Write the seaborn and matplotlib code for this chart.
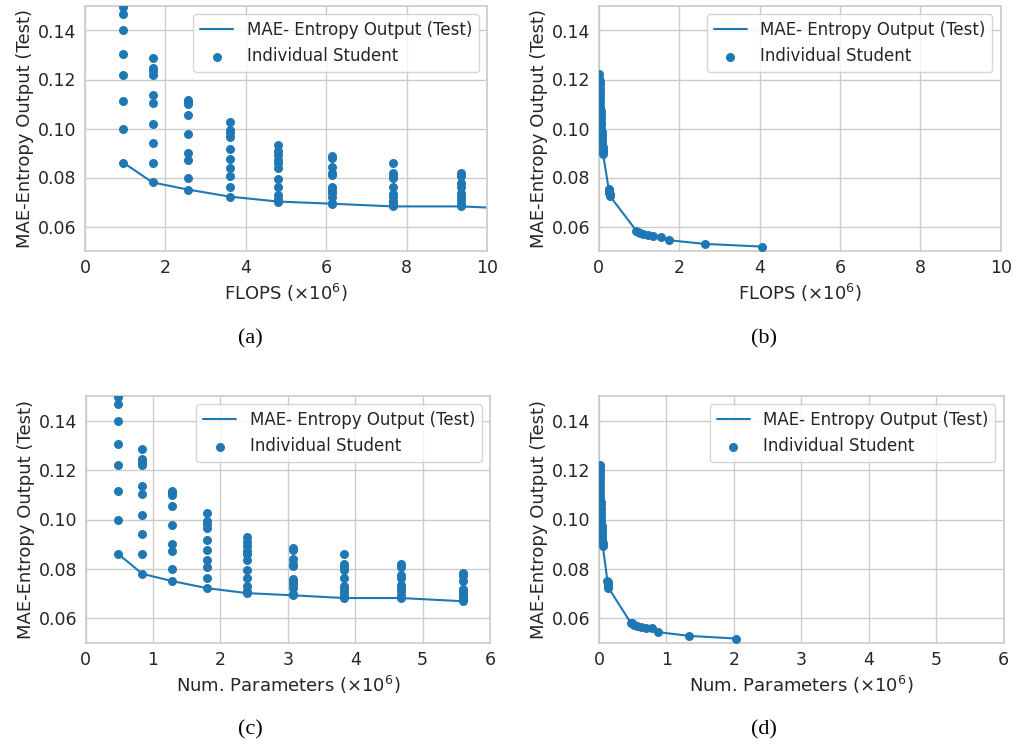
import matplotlib
matplotlib.use("Agg")
import matplotlib.pyplot as plt
import seaborn as sns
import pandas as pd

# ---- student grid (panels a and c): each column is one architecture width ----
col_flops = [0.95, 1.68, 2.55, 3.60, 4.79, 6.14, 7.66, 9.35, 11.2]   # x10^6
col_params = [0.48, 0.84, 1.28, 1.80, 2.39, 3.08, 3.84, 4.68, 5.60]  # x10^6
col_errors = [
    [0.1495, 0.1468, 0.1400, 0.1305, 0.1219, 0.1114, 0.0996, 0.0861],
    [0.1286, 0.1246, 0.1234, 0.1220, 0.1137, 0.1103, 0.1018, 0.0941, 0.0859, 0.0780],
    [0.1117, 0.1108, 0.1099, 0.1056, 0.0978, 0.0899, 0.0872, 0.0800, 0.0751],
    [0.1027, 0.0995, 0.0982, 0.0965, 0.0918, 0.0876, 0.0838, 0.0808, 0.0763, 0.0722],
    [0.0931, 0.0910, 0.0893, 0.0872, 0.0859, 0.0837, 0.0795, 0.0763, 0.0729, 0.0712, 0.0702],
    [0.0886, 0.0878, 0.0842, 0.0818, 0.0812, 0.0761, 0.0750, 0.0738, 0.0722, 0.0697, 0.0693],
    [0.0859, 0.0820, 0.0807, 0.0797, 0.0763, 0.0732, 0.0720, 0.0706, 0.0693, 0.0682],
    [0.0820, 0.0807, 0.0777, 0.0763, 0.0736, 0.0722, 0.0709, 0.0693, 0.0682],
    [0.0784, 0.0770, 0.0750, 0.0719, 0.0710, 0.0703, 0.0692, 0.0680, 0.0669],
]

# ---- compact students (panels b and d) ----
small_flops = [0.015, 0.018, 0.021, 0.024, 0.027, 0.030, 0.033, 0.036, 0.040, 0.044,
               0.048, 0.052, 0.056, 0.060, 0.064, 0.068, 0.072, 0.076, 0.080, 0.085,
               0.090, 0.095, 0.100, 0.105, 0.110,
               0.250, 0.258, 0.265, 0.272, 0.280,
               0.94, 0.98, 1.03, 1.11, 1.23, 1.36, 1.55, 1.75, 2.64, 4.05]
small_params = [0.008, 0.009, 0.011, 0.012, 0.014, 0.015, 0.017, 0.018, 0.020, 0.022,
                0.024, 0.026, 0.028, 0.030, 0.032, 0.034, 0.036, 0.038, 0.040, 0.043,
                0.045, 0.048, 0.050, 0.053, 0.055,
                0.125, 0.129, 0.133, 0.136, 0.140,
                0.47, 0.49, 0.52, 0.56, 0.62, 0.69, 0.78, 0.88, 1.33, 2.03]
small_errors = [0.1222, 0.1208, 0.1195, 0.1180, 0.1166, 0.1150, 0.1135, 0.1120, 0.1104, 0.1088,
                0.1072, 0.1057, 0.1042, 0.1028, 0.1013, 0.0999, 0.0985, 0.0972, 0.0960, 0.0948,
                0.0936, 0.0924, 0.0914, 0.0904, 0.0894,
                0.0752, 0.0745, 0.0738, 0.0731, 0.0724,
                0.0582, 0.0579, 0.0574, 0.0569, 0.0566, 0.0562, 0.0559, 0.0544, 0.0529, 0.0518]

line_label = "MAE- Entropy Output (Test)"
dot_label = "Individual Student"
y_label = "MAE-Entropy Output (Test)"
flops_label = r"FLOPS ($\times10^6$)"
params_label = r"Num. Parameters ($\times10^6$)"
y_ticks = [0.06, 0.08, 0.10, 0.12, 0.14]
captions = ["(a)", "(b)", "(c)", "(d)"]

sns.set_theme(style="whitegrid", context="notebook")
plt.rcParams["font.family"] = ["DejaVu Sans"]
blue = "#1f77b4"

# long-form tables
grid_rows = []
for f, p, errs in zip(col_flops, col_params, col_errors):
    for e in errs:
        grid_rows.append({"flops": f, "params": p, "err": e})
grid = pd.DataFrame(grid_rows)
front = grid.groupby(["flops", "params"], as_index=False)["err"].min()
small = pd.DataFrame({"flops": small_flops, "params": small_params, "err": small_errors})

fig = plt.figure(figsize=(10.13, 7.46), dpi=100)
W, H = 1013.0, 746.0


def axes_px(left, right, top, bottom):
    return fig.add_axes([left / W, 1 - bottom / H, (right - left) / W, (bottom - top) / H])


ax_a = axes_px(85, 487, 6, 251)
ax_b = axes_px(598.7, 1000.7, 6, 251)
ax_c = axes_px(85.7, 490, 396, 643)
ax_d = axes_px(599, 1003.7, 396, 643)

panels = [
    (ax_a, front, grid, "flops", flops_label, 10, [0, 2, 4, 6, 8, 10]),
    (ax_b, small, small, "flops", flops_label, 10, [0, 2, 4, 6, 8, 10]),
    (ax_c, front, grid, "params", params_label, 6, [0, 1, 2, 3, 4, 5, 6]),
    (ax_d, small, small, "params", params_label, 6, [0, 1, 2, 3, 4, 5, 6]),
]

for ax, line_df, dot_df, xcol, xlabel, xmax, xticks in panels:
    sns.lineplot(data=line_df, x=xcol, y="err", ax=ax, color=blue, linewidth=1.5,
                 estimator=None, sort=True, label=line_label)
    sns.scatterplot(data=dot_df, x=xcol, y="err", ax=ax, color=blue, s=42,
                    linewidth=0, label=dot_label, zorder=3)
    ax.set_xlim(0, xmax)
    ax.set_ylim(0.05, 0.15)
    ax.set_xticks(xticks)
    ax.set_yticks(y_ticks)
    ax.set_yticklabels([f"{t:.2f}" for t in y_ticks])
    ax.set_xlabel(xlabel, fontsize=13, color="#262626", labelpad=3)
    ax.set_ylabel(y_label, fontsize=13, color="#262626", labelpad=3)
    ax.tick_params(axis="both", labelsize=12.5, length=0, pad=6, colors="#262626")
    for s in ax.spines.values():
        s.set_color("#cccccc")
        s.set_linewidth(1.25)
    ax.legend(loc="upper right", fontsize=12, frameon=True, framealpha=0.8,
              edgecolor="#cccccc", borderaxespad=0.5)

cap_pos = [(250, 339), (764, 339), (250, 730), (764, 730)]
for text, (cx, cy) in zip(captions, cap_pos):
    fig.text(cx / W, 1 - cy / H, text, ha="center", va="center",
             fontsize=16, family="Liberation Serif", color="black")

fig.savefig("out.png", dpi=100)
